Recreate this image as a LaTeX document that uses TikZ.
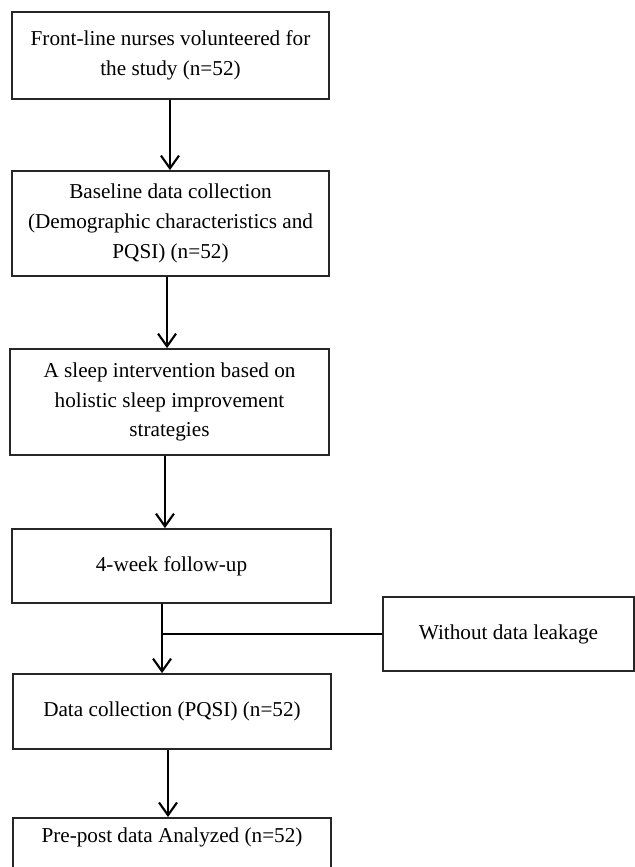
\documentclass[tikz,border=0pt]{standalone}
\usepackage{fontspec}
\setmainfont{Liberation Serif}
\usetikzlibrary{arrows.meta}
\begin{document}
\begin{tikzpicture}[x=0.75pt,y=-0.75pt,
  box/.style={draw=black!85, line width=1.3pt, rectangle, align=center, inner sep=0pt,
    font=\fontsize{15.9pt}{22.3pt}\selectfont},
  arr/.style={line width=1.6pt, -{Straight Barb[length=9.5pt,width=13.5pt,line width=1.6pt]}},
  link/.style={line width=1.6pt}]
\clip (0,0) rectangle (635,867);
\fill[white] (0,0) rectangle (635,867);
\node[box, minimum width=317*0.75pt, minimum height=87*0.75pt] (one) at (170.5,55.5)
  {Front-line nurses volunteered for\\the study (n=52)};
\node[box, minimum width=317*0.75pt, minimum height=105*0.75pt] (two) at (170.5,223.5)
  {Baseline data collection\\(Demographic characteristics and\\PQSI) (n=52)};
\node[box, minimum width=319*0.75pt, minimum height=106*0.75pt] (three) at (169.5,402)
  {A sleep intervention based on\\holistic sleep improvement\\strategies};
\node[box, minimum width=319*0.75pt, minimum height=74*0.75pt] (four) at (171.5,566)
  {4-week follow-up};
\node[box, minimum width=251*0.75pt, minimum height=74*0.75pt] (five) at (508.5,634)
  {Without data leakage};
\node[box, minimum width=318*0.75pt, minimum height=75*0.75pt] (six) at (172,711.5)
  {Data collection (PQSI) (n=52)};
\node[box, anchor=north, minimum width=318*0.75pt, inner ysep=6.8pt, text height=12pt, text depth=60pt] (seven) at (172,817)
  {Pre-post data Analyzed (n=52)};
\draw[arr] ([xshift=-0.4pt]one.south) -- ([xshift=-0.4pt]one.south |- two.north);
\draw[arr] ([xshift=-2.6pt]two.south) -- ([xshift=-2.6pt]two.south |- three.north);
\draw[arr] ([xshift=-3.4pt]three.south) -- ([xshift=-3.4pt]three.south |- four.north);
\draw[arr] ([xshift=-7.1pt]four.south) -- ([xshift=-7.1pt]four.south |- six.north);
\coordinate (j) at ([xshift=-7.1pt]four.south |- five.west);
\draw[link] (j) -- (five.west);
\draw[arr] ([xshift=-3pt]six.south) -- ([xshift=-3pt]six.south |- seven.north);
\end{tikzpicture}
\end{document}
